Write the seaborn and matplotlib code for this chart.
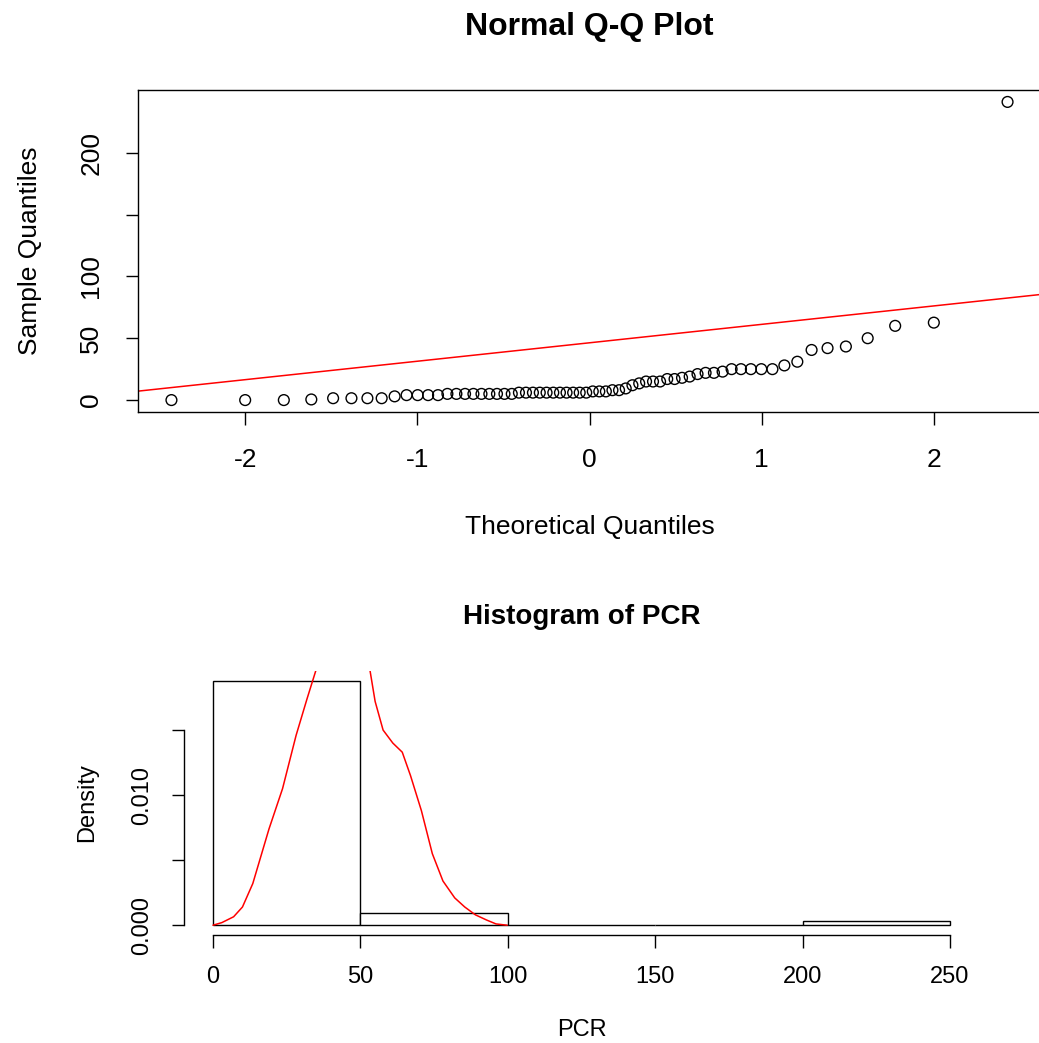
import numpy as np
import pandas as pd
import matplotlib
matplotlib.use("Agg")
import matplotlib.pyplot as plt
import seaborn as sns
from statistics import NormalDist

# ---------------- data ----------------
pcr = [0, 0, 0, 0.5, 1.5, 1.5, 1.5, 1.5, 3, 4, 4, 4, 4,
       5, 5, 5, 5, 5, 5, 5, 5, 5, 6, 6, 6, 6, 6, 6, 6, 6, 6, 6, 6,
       7, 7, 7, 8, 8, 9.4, 12, 13.5, 15, 15, 15, 17, 17, 18, 19,
       21, 22, 22, 23, 25, 25, 25, 25, 25, 28, 31, 40.5, 42, 43.3,
       50, 60, 62.6, 241]

line_intercept = 46.3
line_slope = 14.9

hist_edges = [0, 50, 100, 150, 200, 250]

curve_x = [0, 3, 7, 10, 13.5, 19, 23.6, 28.2, 31.9, 35.2, 38, 42, 46, 50,
           53.1, 55, 57.7, 61, 64.2, 67, 70.7, 74.4, 78, 82, 85.4, 89, 92.8,
           96, 99.8]
curve_y = [0, 0.0002, 0.00065, 0.0014, 0.0032, 0.0074, 0.0105, 0.0146,
           0.0174, 0.0198, 0.022, 0.025, 0.026, 0.0235, 0.0198, 0.0172,
           0.0150, 0.0140, 0.0133, 0.0115, 0.0088, 0.0055, 0.0034, 0.0021,
           0.0014, 0.0008, 0.0004, 0.0001, 0.0]

qq_xticks = [-2, -1, 0, 1, 2]
qq_yticks = [0, 50, 100, 150, 200]
qq_yticklabels = ["0", "50", "100", "", "200"]
hist_xticks = [0, 50, 100, 150, 200, 250]
hist_yticks = [0, 0.005, 0.010, 0.015]
hist_yticklabels = ["0.000", "", "0.010", ""]

# ---------------- style ----------------
sns.set_style("ticks")
plt.rcParams["font.family"] = ["Liberation Sans", "DejaVu Sans"]
plt.rcParams["axes.linewidth"] = 1.0
plt.rcParams["text.color"] = "black"
plt.rcParams["axes.labelcolor"] = "black"
plt.rcParams["xtick.color"] = "black"
plt.rcParams["ytick.color"] = "black"
plt.rcParams["axes.edgecolor"] = "black"

W, H = 1039, 1043
fig = plt.figure(figsize=(W / 100, H / 100), dpi=100)

def box(l, t, r, b):
    return [l / W, 1 - b / H, (r - l) / W, (b - t) / H]

# ---------------- Q-Q plot ----------------
n = len(pcr)
sample = np.sort(np.array(pcr, dtype=float))
probs = (np.arange(1, n + 1) - 0.5) / n
theo = np.array([NormalDist().inv_cdf(p) for p in probs])
qq = pd.DataFrame({"theo": theo, "sample": sample})

ax1 = fig.add_axes(box(138, 90, 1041, 412))
sns.scatterplot(data=qq, x="theo", y="sample", ax=ax1, marker="o",
                facecolor="none", edgecolor="black", linewidth=1.0, s=60)
ax1.axline((0, line_intercept), slope=line_slope, color="red", linewidth=1.1)

xr = theo.max() - theo.min()
ax1.set_xlim(theo.min() - 0.04 * xr, theo.max() + 0.04 * xr)
yr = sample.max() - sample.min()
ax1.set_ylim(sample.min() - 0.04 * yr, sample.max() + 0.04 * yr)

ax1.set_xticks(qq_xticks)
ax1.set_xticklabels([str(v) for v in qq_xticks])
ax1.set_yticks(qq_yticks)
ax1.set_yticklabels(qq_yticklabels)
ax1.tick_params(axis="both", labelsize=19, length=9, width=1.0,
                color="black", labelcolor="black")
ax1.tick_params(axis="x", pad=17)
ax1.tick_params(axis="y", pad=16)
for lab in ax1.get_yticklabels():
    lab.set_rotation(90)
    lab.set_va("center")
for sp in ax1.spines.values():
    sp.set_visible(True)
    sp.set_color("black")

ax1.set_xlabel("Theoretical Quantiles", fontsize=19, va="center")
ax1.xaxis.set_label_coords(0.5, (412 - 527) / 322)
ax1.set_ylabel("Sample Quantiles", fontsize=19, va="center", ha="center")
ax1.yaxis.set_label_coords((30 - 138) / 903, 0.5)
ax1.set_title("Normal Q-Q Plot", fontsize=23, fontweight="bold",
              y=(412 - 27) / 322, va="center", pad=0)

# ---------------- Histogram ----------------
ax2 = fig.add_axes(box(183.5, 671, 979.5, 935))
sns.histplot(x=pcr, bins=hist_edges, stat="density", ax=ax2,
             color="white", edgecolor="black", linewidth=1.0, alpha=1.0)
sns.lineplot(x=curve_x, y=curve_y, ax=ax2, color="red", linewidth=1.1,
             sort=False)

counts, _ = np.histogram(pcr, bins=hist_edges)
dens = counts / (counts.sum() * np.diff(hist_edges))
er = hist_edges[-1] - hist_edges[0]
ax2.set_xlim(hist_edges[0] - 0.04 * er, hist_edges[-1] + 0.04 * er)
ax2.set_ylim(-0.04 * dens.max(), 1.04 * dens.max())

ax2.set_xticks(hist_xticks)
ax2.set_xticklabels([str(v) for v in hist_xticks])
ax2.set_yticks(hist_yticks)
ax2.set_yticklabels(hist_yticklabels)
ax2.tick_params(axis="both", labelsize=17, length=9, width=1.0,
                color="black", labelcolor="black")
ax2.tick_params(axis="x", pad=13)
ax2.tick_params(axis="y", pad=13)
for lab in ax2.get_yticklabels():
    lab.set_rotation(90)
    lab.set_va("center")
ax2.spines["top"].set_visible(False)
ax2.spines["right"].set_visible(False)
ax2.spines["left"].set_bounds(hist_yticks[0], hist_yticks[-1])
ax2.spines["bottom"].set_bounds(hist_xticks[0], hist_xticks[-1])
ax2.spines["left"].set_color("black")
ax2.spines["bottom"].set_color("black")

ax2.set_xlabel("PCR", fontsize=17, va="center")
ax2.xaxis.set_label_coords(0.5, (935 - 1030) / 264)
ax2.set_ylabel("Density", fontsize=17, va="center", ha="center")
ax2.yaxis.set_label_coords((87 - 183.5) / 796, 0.5)
ax2.set_title("Histogram of PCR", fontsize=20, fontweight="bold",
              y=(935 - 617) / 264, va="center", pad=0)

fig.savefig("out.png", dpi=100)
